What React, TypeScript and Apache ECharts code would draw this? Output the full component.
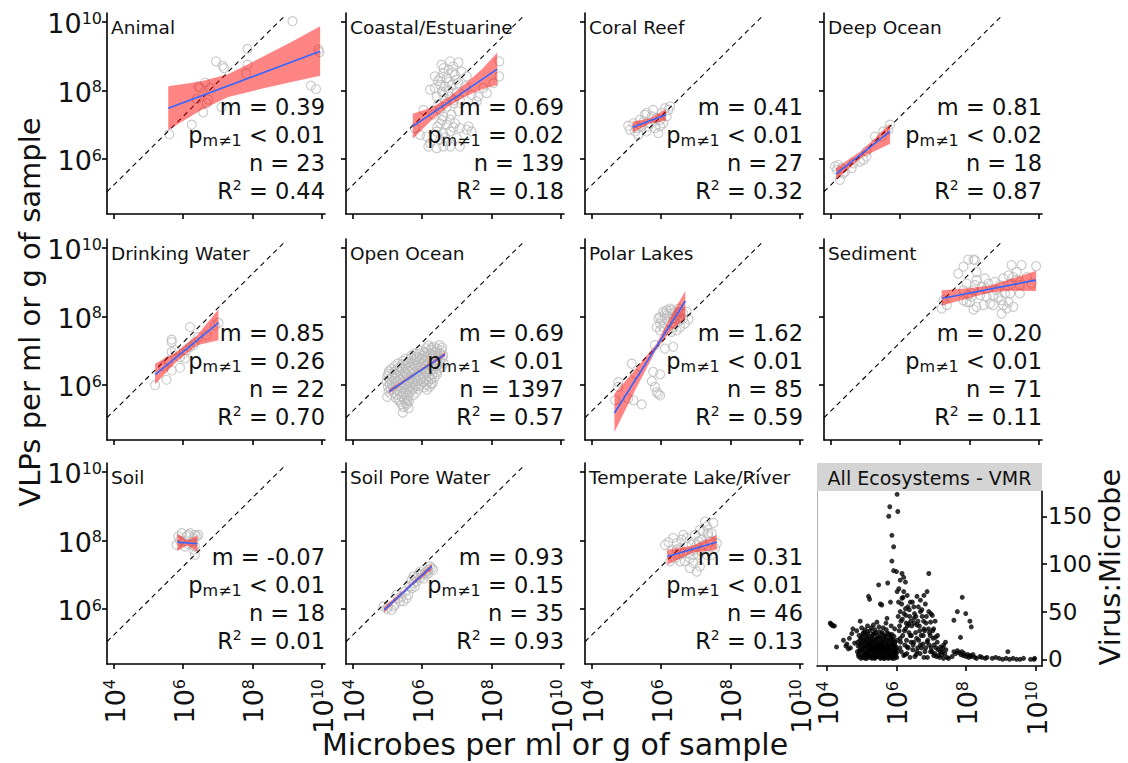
import React, { useEffect, useRef } from "react";
import * as echarts from "echarts";

const FONT = "DejaVu Sans";
const INK = "#111111";

// ---------- panel annotations ----------
const panelNames = ["Animal", "Coastal/Estuarine", "Coral Reef", "Deep Ocean", "Drinking Water", "Open Ocean", "Polar Lakes", "Sediment", "Soil", "Soil Pore Water", "Temperate Lake/River"];
const slopes = ["0.39", "0.69", "0.41", "0.81", "0.85", "0.69", "1.62", "0.20", "-0.07", "0.93", "0.31"];
const pOps = ["<", "=", "<", "<", "=", "<", "<", "<", "<", "=", "<"];
const pValues = ["0.01", "0.02", "0.01", "0.02", "0.26", "0.01", "0.01", "0.01", "0.01", "0.15", "0.01"];
const sampleSizes = ["23", "139", "27", "18", "22", "1397", "85", "71", "18", "35", "46"];
const rSquared = ["0.44", "0.18", "0.32", "0.87", "0.70", "0.57", "0.59", "0.11", "0.01", "0.93", "0.13"];

// ---------- axes (log10 exponents) ----------
const xTickExp = [4, 6, 8, 10];
const yTickExp = [6, 8, 10];
const vmrTicks = [0, 50, 100, 150];

// reference dashed line (log10 microbes, log10 VLPs)
const refLineX = [3.8, 8.9];
const refLineY = [5.05, 10.15];

// ---------- fitted lines (log10 x, log10 y) ----------
const fitX = [[5.57, 9.96], [5.73, 8.17], [5.18, 6.14], [4.15, 5.71], [5.19, 7.02], [5.05, 6.66], [4.65, 6.7], [7.2, 9.93], [5.83, 6.41], [4.9, 6.28], [6.18, 7.61]];
const fitY = [[7.49, 9.15], [6.96, 8.63], [6.93, 7.3], [5.57, 6.81], [6.31, 7.82], [5.82, 6.9], [5.19, 8.46], [8.53, 9.07], [7.96, 7.91], [5.98, 7.25], [7.54, 7.96]];

// ---------- confidence ribbons [x, lower, upper] ----------
const ribbonAnimal = [[5.57, 6.85, 8.13], [6.5, 7.42, 8.27], [7.3, 7.82, 8.48], [8.2, 8.04, 8.94], [9.1, 8.25, 9.41], [9.96, 8.44, 9.88]];
const ribbonCoastal = [[5.73, 6.6, 7.33], [6.3, 7.17, 7.52], [6.8, 7.57, 7.84], [7.3, 7.85, 8.25], [7.75, 8.05, 8.65], [8.17, 8.17, 9.12]];
const ribbonCoral = [[5.18, 6.78, 7.1], [5.65, 7.03, 7.19], [6.14, 7.13, 7.46]];
const ribbonDeep = [[4.15, 5.4, 5.74], [4.9, 6.06, 6.26], [5.71, 6.45, 7.03]];
const ribbonDrinking = [[5.19, 6.03, 6.63], [5.8, 6.68, 6.97], [6.4, 7.17, 7.45], [7.02, 7.31, 8.21]];
const ribbonOpen = [[5.05, 5.76, 5.88], [5.85, 6.34, 6.4], [6.66, 6.84, 6.96]];
const ribbonPolar = [[4.65, 4.63, 5.75], [5.25, 5.85, 6.45], [5.87, 7.06, 7.22], [6.3, 7.61, 8.05], [6.7, 7.95, 8.75]];
const ribbonSediment = [[7.2, 8.33, 8.77], [8.0, 8.55, 8.83], [8.6, 8.71, 8.91], [9.2, 8.76, 9.1], [9.93, 8.75, 9.34]];
const ribbonSoil = [[5.83, 7.7, 8.22], [6.12, 7.87, 8.01], [6.41, 7.68, 8.16]];
const ribbonPore = [[4.9, 5.9, 6.07], [5.6, 6.6, 6.68], [6.28, 7.15, 7.33]];
const ribbonTemperate = [[6.18, 7.3, 7.74], [6.9, 7.65, 7.85], [7.61, 7.74, 8.17]];

// ---------- observations [log10 microbes, log10 VLPs] ----------
const animalPts = [[5.6, 6.73], [6.25, 7.01], [6.58, 7.37], [6.39, 7.76], [6.44, 8.13], [6.63, 8.24], [6.78, 8.08], [6.68, 7.64], [7.11, 7.52], [6.95, 8.86], [7.14, 8.73], [7.18, 8.66], [7.86, 9.22], [7.86, 8.76], [7.82, 8.5], [9.16, 10.03], [9.91, 9.2], [9.94, 9.13], [9.69, 8.15], [9.84, 8.05], [6.49, 8.08], [6.73, 7.74]];
const coastalPts = [[7.05, 8.83], [6.9, 8.71], [6.76, 8.61], [6.61, 8.52], [6.52, 8.37], [6.71, 8.37], [6.95, 8.47], [7.14, 8.56], [7.29, 8.42], [6.52, 8.17], [6.37, 8.08], [6.23, 8.03], [6.66, 8.13], [6.85, 8.17], [7.05, 8.22], [7.24, 8.13], [7.43, 7.88], [7.62, 7.83], [7.87, 7.93], [8.06, 8.22], [8.23, 8.42], [8.23, 8.86], [7.77, 8.08], [6.42, 7.83], [6.61, 7.88], [6.81, 7.83], [7.0, 7.93], [6.9, 7.64], [6.71, 7.54], [6.52, 7.44], [6.32, 7.3], [6.61, 7.25], [6.85, 7.3], [7.05, 7.4], [6.52, 7.05], [6.71, 7.01], [6.95, 7.05], [6.42, 6.81], [6.61, 6.76], [6.81, 6.81], [7.09, 6.91], [7.29, 6.86], [6.52, 6.57], [6.71, 6.52], [7.0, 6.62], [6.13, 6.66], [5.94, 6.71], [5.79, 6.91], [6.23, 6.47], [6.18, 6.37], [6.42, 6.32], [6.61, 6.37], [6.81, 6.37], [7.09, 6.37], [7.34, 6.96], [7.43, 6.81], [7.58, 7.69], [7.09, 7.74], [6.04, 7.44], [6.37, 8.42], [6.56, 8.76], [6.81, 8.86], [6.62, 8.66], [6.88, 8.54], [6.46, 8.28], [6.78, 8.26], [6.98, 8.32], [6.57, 7.98], [6.76, 8.0], [6.92, 7.72], [6.66, 7.7], [6.47, 7.6], [6.8, 7.16], [6.58, 7.14], [6.9, 6.93], [6.44, 6.95], [6.67, 6.64]];
const coralPts = [[5.05, 6.98], [5.1, 6.86], [5.2, 7.05], [5.25, 6.81], [5.34, 6.71], [5.39, 7.15], [5.44, 6.96], [5.53, 7.3], [5.58, 6.81], [5.68, 7.05], [5.73, 7.25], [5.77, 7.44], [5.82, 6.91], [5.92, 6.76], [5.97, 7.15], [6.02, 7.35], [6.11, 7.49], [6.16, 7.25], [6.21, 7.44], [6.26, 7.54], [5.58, 7.35], [5.49, 7.1], [5.87, 7.2], [6.06, 7.05], [5.29, 6.91], [5.63, 6.96], [5.97, 6.96]];
const deepPts = [[4.6, 5.74], [4.84, 5.93], [5.03, 6.08], [5.03, 6.23], [5.27, 6.66], [5.51, 6.81], [5.71, 7.01], [4.65, 5.88], [4.26, 5.4], [4.36, 5.59], [4.12, 5.79], [4.17, 5.69], [4.21, 5.83], [4.31, 5.74], [4.94, 5.98], [5.47, 6.66], [5.66, 6.86], [4.41, 5.64]];
const drinkingPts = [[5.19, 6.0], [5.52, 6.16], [5.43, 6.55], [5.57, 6.71], [5.67, 6.43], [5.91, 6.51], [5.67, 6.97], [5.67, 7.26], [5.67, 7.33], [5.77, 7.02], [5.91, 6.82], [6.05, 6.78], [6.1, 7.02], [6.2, 7.12], [6.2, 7.7], [6.3, 7.17], [6.34, 7.26], [6.44, 7.41], [6.68, 7.46], [6.92, 7.75], [7.02, 7.82], [6.01, 6.92]];
const openPts = [[6.18, 7.16], [6.34, 7.13], [6.5, 7.17], [5.93, 7.01], [6.08, 6.98], [6.26, 7.03], [6.41, 6.99], [6.56, 7.02], [5.68, 6.86], [5.84, 6.83], [6.01, 6.87], [6.14, 6.84], [6.31, 6.88], [6.46, 6.85], [6.61, 6.87], [5.44, 6.71], [5.61, 6.68], [5.76, 6.72], [5.91, 6.69], [6.06, 6.71], [6.21, 6.67], [6.36, 6.72], [6.52, 6.69], [5.21, 6.56], [5.36, 6.53], [5.52, 6.57], [5.66, 6.54], [5.81, 6.56], [5.96, 6.53], [6.11, 6.57], [6.26, 6.54], [6.42, 6.56], [6.56, 6.52], [5.04, 6.41], [5.19, 6.38], [5.34, 6.42], [5.49, 6.39], [5.64, 6.41], [5.79, 6.38], [5.94, 6.42], [6.09, 6.39], [6.24, 6.41], [6.41, 6.38], [4.99, 6.26], [5.14, 6.23], [5.31, 6.27], [5.46, 6.24], [5.61, 6.26], [5.76, 6.23], [5.91, 6.27], [6.04, 6.24], [6.19, 6.26], [6.36, 6.22], [4.98, 6.11], [5.12, 6.08], [5.27, 6.12], [5.43, 6.09], [5.58, 6.11], [5.73, 6.08], [5.87, 6.12], [6.03, 6.09], [6.18, 6.11], [6.31, 6.07], [5.01, 5.96], [5.16, 5.93], [5.29, 5.97], [5.46, 5.94], [5.61, 5.96], [5.74, 5.93], [5.91, 5.97], [6.06, 5.94], [6.23, 5.96], [5.03, 5.81], [5.18, 5.78], [5.36, 5.82], [5.51, 5.79], [5.66, 5.81], [5.82, 5.78], [4.99, 5.66], [5.24, 5.63], [5.41, 5.67], [5.56, 5.64], [5.36, 5.51], [5.53, 5.48], [5.62, 5.53], [5.46, 5.36], [5.61, 5.33], [5.44, 5.2],
  [6.11, 7.08], [6.27, 7.09], [6.43, 7.07], [6.58, 7.1], [5.78, 6.93], [5.93, 6.92], [6.09, 6.94], [6.23, 6.92], [6.38, 6.95], [6.53, 6.93], [5.53, 6.78], [5.69, 6.79], [5.83, 6.77], [5.98, 6.79], [6.13, 6.78], [6.29, 6.8], [6.44, 6.77], [6.58, 6.79], [5.29, 6.63], [5.44, 6.62], [5.58, 6.64], [5.73, 6.63], [5.88, 6.61], [6.03, 6.64], [6.18, 6.62], [6.34, 6.63], [6.49, 6.61], [6.62, 6.64], [5.11, 6.48], [5.27, 6.47], [5.42, 6.49], [5.56, 6.48], [5.71, 6.46], [5.87, 6.49], [6.02, 6.47], [6.17, 6.48], [6.33, 6.46], [6.48, 6.49], [5.02, 6.33], [5.23, 6.34], [5.38, 6.32], [5.53, 6.33], [5.69, 6.34], [5.84, 6.31], [5.98, 6.33], [6.13, 6.34], [6.29, 6.32], [6.43, 6.33], [5.06, 6.18], [5.21, 6.19], [5.36, 6.17], [5.51, 6.18], [5.66, 6.19], [5.81, 6.17], [5.96, 6.18], [6.11, 6.16], [6.26, 6.18], [5.07, 6.03], [5.22, 6.04], [5.37, 6.02], [5.52, 6.03], [5.67, 6.04], [5.82, 6.02], [5.97, 6.03], [6.12, 6.01], [6.27, 6.03], [5.09, 5.88], [5.26, 5.87], [5.42, 5.89], [5.57, 5.88], [5.73, 5.87], [5.89, 5.89], [6.14, 5.87], [5.11, 5.73], [5.28, 5.72], [5.46, 5.74], [5.6, 5.72], [5.74, 5.71], [5.31, 5.58], [5.48, 5.59], [5.58, 5.57], [5.41, 5.43], [5.56, 5.44]];
const polarPts = [[6.74, 8.14], [6.79, 7.92], [6.64, 8.09], [6.35, 7.12], [6.11, 7.07], [5.82, 7.17], [5.15, 6.63], [5.25, 6.34], [4.76, 6.09], [4.67, 5.56], [5.05, 5.61], [5.2, 5.56], [5.44, 5.44], [5.77, 6.39], [5.97, 6.32], [5.73, 6.12], [5.82, 5.95], [5.92, 5.75], [5.97, 5.7], [5.87, 5.8], [4.76, 5.95], [5.97, 7.99], [6.06, 8.14], [6.16, 8.19], [6.26, 8.09], [6.11, 7.95], [5.97, 7.8], [6.21, 7.85], [6.35, 7.95], [6.45, 8.04], [6.55, 8.14], [6.3, 8.19], [6.4, 7.8], [6.55, 7.9], [6.06, 7.7], [5.87, 7.7], [6.21, 7.6], [6.3, 7.56], [5.97, 7.6], [6.16, 8.04], [6.26, 8.24], [6.5, 8.24], [6.64, 7.95], [6.11, 8.09], [6.4, 8.14], [6.02, 7.9], [6.35, 7.7], [6.45, 7.6], [5.92, 7.95], [6.55, 7.7], [6.69, 7.8]];
const sedimentPts = [[7.2, 8.24], [7.35, 8.34], [7.25, 8.48], [7.68, 9.26], [7.83, 9.46], [7.97, 9.67], [8.12, 9.67], [8.16, 9.65], [8.21, 9.31], [7.92, 8.97], [7.83, 8.77], [7.97, 8.63], [7.83, 8.48], [7.92, 8.43], [8.07, 8.58], [8.12, 8.77], [8.16, 8.92], [8.21, 9.07], [8.36, 8.87], [8.45, 9.12], [8.5, 8.58], [8.41, 8.34], [8.12, 8.21], [8.21, 8.29], [8.6, 8.38], [8.69, 8.63], [8.79, 8.77], [8.74, 9.02], [8.89, 8.92], [8.98, 9.12], [9.03, 8.68], [8.93, 8.48], [8.98, 8.34], [8.93, 8.09], [9.13, 8.43], [9.18, 8.68], [9.22, 8.97], [9.27, 9.16], [9.22, 9.51], [9.51, 9.51], [9.37, 9.31], [9.46, 8.92], [9.27, 8.29], [9.08, 8.24], [9.66, 9.16], [9.8, 8.97], [9.93, 9.48], [9.46, 8.68], [8.69, 8.34], [8.5, 8.82], [8.31, 8.63], [8.02, 8.43], [8.55, 8.97], [8.84, 8.58], [9.13, 9.21], [9.37, 9.07]];
const soilPts = [[5.81, 7.88], [5.86, 8.13], [5.91, 8.0], [5.96, 8.22], [6.01, 7.98], [6.1, 8.13], [6.15, 8.17], [6.2, 8.22], [6.25, 7.88], [6.3, 8.08], [6.34, 8.17], [6.39, 8.13], [6.44, 8.17], [6.34, 7.83], [6.3, 7.74], [6.34, 7.59], [6.15, 7.9], [6.05, 7.83]];
const porePts = [[4.88, 6.08], [4.98, 6.01], [5.12, 5.98], [5.22, 6.13], [5.31, 6.32], [5.41, 6.37], [5.46, 6.23], [5.6, 6.42], [5.7, 6.61], [5.75, 6.76], [5.84, 6.81], [5.79, 6.66], [5.94, 6.91], [5.99, 7.01], [6.08, 7.05], [6.13, 7.1], [6.18, 7.15], [6.28, 7.2], [6.32, 7.15], [5.26, 6.42], [5.51, 6.52], [5.65, 6.66], [5.89, 7.01], [6.04, 6.89], [5.17, 6.08], [5.02, 6.08], [5.75, 6.96], [6.13, 7.01], [6.23, 7.25], [5.36, 6.23], [5.55, 6.32], [5.84, 6.91], [5.7, 6.86], [5.94, 7.1], [6.18, 7.05]];
const temperatePts = [[6.11, 7.88], [6.21, 7.96], [6.26, 7.4], [6.35, 8.08], [6.45, 7.93], [6.5, 7.59], [6.55, 7.78], [6.59, 8.03], [6.64, 8.17], [6.74, 8.08], [6.79, 7.64], [6.83, 7.49], [6.88, 7.88], [6.93, 7.35], [6.98, 7.74], [7.03, 7.1], [7.08, 7.59], [7.12, 7.25], [7.17, 8.03], [7.22, 8.27], [7.27, 8.56], [7.32, 8.42], [7.36, 8.13], [7.41, 7.98], [7.46, 8.22], [7.51, 8.52], [7.56, 7.78], [7.61, 7.93], [6.98, 8.17], [7.12, 8.32], [6.4, 7.49], [6.3, 7.69], [6.69, 7.4], [6.83, 7.2], [7.03, 7.88], [7.17, 7.69], [7.32, 7.59], [7.46, 7.59], [6.55, 7.4], [6.74, 7.83], [6.93, 7.59], [7.08, 7.98], [7.22, 7.88], [7.36, 8.22], [6.45, 7.74], [6.64, 7.64]];

// ---------- all ecosystems VMR [log10 microbes, virus:microbe] ----------
const vmrPts = [
  [4.1, 38], [4.12, 37], [4.15, 36], [4.18, 35], [4.22, 35], [4.28, 13],
  [4.48, 20], [4.58, 16], [4.62, 11], [4.65, 22], [4.72, 27], [4.75, 32], [4.8, 17], [4.86, 30], [4.96, 40], [4.55, 14], [4.68, 12],
  [4.88, 8], [4.9, 14], [4.92, 3], [4.95, 20], [4.97, 11], [5.0, 6], [5.0, 17], [5.02, 24], [5.03, 2], [5.05, 12], [5.06, 28], [5.08, 8], [5.1, 19], [5.11, 4], [5.12, 14], [5.14, 22], [5.15, 1], [5.16, 9], [5.18, 26], [5.19, 16], [5.2, 5], [5.21, 12], [5.23, 20], [5.24, 2], [5.25, 30], [5.26, 10], [5.27, 15], [5.29, 6], [5.3, 23], [5.31, 13], [5.32, 3], [5.33, 18], [5.35, 8], [5.36, 27], [5.37, 11], [5.38, 1], [5.4, 16], [5.41, 21], [5.42, 6], [5.43, 13], [5.45, 25], [5.46, 3], [5.47, 9], [5.48, 18], [5.5, 12], [5.51, 29], [5.52, 5], [5.53, 15], [5.55, 22], [5.56, 2], [5.57, 10], [5.58, 17], [5.6, 7], [5.61, 26], [5.62, 13], [5.63, 1], [5.65, 19], [5.66, 9], [5.67, 24], [5.68, 4], [5.7, 14], [5.71, 31], [5.72, 7], [5.73, 20], [5.75, 11], [5.76, 2], [5.77, 16], [5.78, 27], [5.8, 6], [5.81, 12], [5.82, 22], [5.83, 3], [5.85, 9], [5.86, 17], [5.87, 26], [5.88, 1], [5.9, 13], [5.91, 5], [5.92, 20], [5.94, 8], [5.95, 15], [5.97, 3], [5.98, 11], [6.0, 6],
  [4.89, 18], [4.91, 5], [4.93, 25], [4.94, 9], [4.96, 15], [4.98, 1], [4.99, 22], [5.01, 10], [5.03, 16], [5.04, 27], [5.06, 4], [5.07, 20], [5.09, 13], [5.1, 1], [5.12, 25], [5.13, 7], [5.15, 17], [5.16, 29], [5.17, 3], [5.19, 11], [5.2, 21], [5.22, 8], [5.23, 15], [5.25, 4], [5.26, 24], [5.28, 12], [5.29, 19], [5.3, 1], [5.32, 9], [5.33, 26], [5.34, 14], [5.36, 5], [5.37, 21], [5.39, 10], [5.4, 28], [5.41, 2], [5.43, 17], [5.44, 8], [5.45, 13], [5.47, 22], [5.48, 4], [5.49, 15], [5.51, 9], [5.52, 24], [5.54, 1], [5.55, 12], [5.56, 19], [5.58, 6], [5.59, 28], [5.6, 14], [5.62, 3], [5.63, 21], [5.64, 10], [5.66, 16], [5.67, 1], [5.69, 11], [5.7, 23], [5.71, 5], [5.73, 15], [5.74, 27], [5.75, 8], [5.77, 1], [5.78, 19], [5.79, 11], [5.81, 4], [5.82, 25], [5.84, 14], [5.85, 2], [5.86, 21], [5.88, 7], [5.89, 16], [5.91, 10], [5.93, 24], [5.94, 1], [5.96, 18], [5.97, 7], [5.99, 13], [6.01, 2], [6.02, 9], [6.03, 20],
  [5.0, 33], [5.1, 31], [5.17, 35], [5.28, 33], [5.38, 31], [5.5, 34], [5.62, 33], [5.7, 38], [5.85, 35], [5.95, 32],
  [5.2, 66], [5.23, 63], [5.49, 78], [5.54, 58], [5.58, 57], [5.75, 80], [5.83, 60], [5.73, 43], [5.44, 39], [5.34, 36], [5.78, 150], [5.81, 160], [5.87, 130], [5.92, 118], [5.87, 103], [5.92, 93], [6.0, 92], [6.02, 173], [6.04, 155],
  [6.16, 90], [6.21, 86], [6.11, 83], [6.26, 81], [6.07, 74], [6.21, 71], [6.31, 67], [6.16, 64], [6.02, 71], [6.4, 60], [6.5, 55], [6.26, 53], [6.11, 50], [6.59, 66], [6.69, 62], [6.79, 67], [6.93, 90], [6.88, 71], [6.83, 58], [6.93, 50], [7.03, 46], [6.69, 50], [6.5, 43], [6.35, 37], [6.59, 36], [6.79, 32], [6.98, 39], [7.07, 32], [7.12, 23], [7.17, 18], [7.27, 13], [7.36, 15], [7.41, 18], [7.31, 8], [6.26, 32], [6.4, 25], [6.11, 22], [6.5, 18], [6.31, 13], [6.69, 15], [6.88, 18], [6.59, 8], [6.98, 8], [6.21, 4], [6.79, 2], [7.07, 4],
  [6.05, 45], [6.08, 30], [6.1, 12], [6.13, 40], [6.15, 58], [6.18, 25], [6.22, 48], [6.24, 15], [6.28, 38], [6.3, 6], [6.33, 55], [6.36, 28], [6.38, 45], [6.42, 18], [6.44, 35], [6.47, 10], [6.52, 48], [6.55, 28], [6.57, 5], [6.62, 40], [6.64, 20], [6.67, 30], [6.72, 12], [6.74, 45], [6.77, 25], [6.82, 8], [6.85, 38], [6.9, 20], [6.95, 28], [7.0, 12], [7.05, 22], [7.1, 6], [7.15, 3], [7.2, 10], [7.24, 2], [7.3, 5], [7.35, 1], [7.45, 2], [7.5, 1],
  [6.06, 60], [6.09, 35], [6.12, 18], [6.14, 8], [6.17, 42], [6.19, 65], [6.23, 30], [6.25, 5], [6.27, 46], [6.29, 20], [6.32, 35], [6.34, 12], [6.37, 52], [6.39, 2], [6.41, 40], [6.43, 25], [6.46, 60], [6.48, 15], [6.51, 38], [6.53, 3], [6.56, 45], [6.58, 22], [6.61, 12], [6.63, 55], [6.66, 35], [6.68, 6], [6.71, 25], [6.73, 52], [6.76, 16], [6.78, 40], [6.81, 30], [6.84, 12], [6.86, 45], [6.89, 2], [6.92, 32], [6.94, 15], [6.97, 25], [6.99, 48], [7.02, 8], [7.04, 30], [7.08, 15], [7.11, 40], [7.14, 12], [7.18, 25], [7.21, 4], [7.26, 8], [7.33, 12], [7.39, 6], [7.42, 10],
  [7.65, 41], [7.75, 50], [7.89, 65], [7.99, 48], [8.11, 40], [8.15, 34], [7.84, 23],
  [7.6, 3], [7.65, 8], [7.7, 6], [7.75, 9], [7.8, 7], [7.85, 5], [7.88, 8], [7.92, 4], [7.95, 6], [8.0, 3], [8.05, 5], [8.08, 2], [8.12, 4], [8.15, 3], [8.2, 5], [8.25, 2], [8.3, 1], [8.4, 3], [8.45, 2], [8.55, 1], [8.6, 2], [8.75, 1], [8.85, 2], [8.95, 1], [9.05, 0], [9.15, 1], [9.2, 8], [9.25, 0], [9.35, 1], [9.45, 0], [9.55, 0], [9.65, 1], [9.85, 0], [9.95, 0], [9.97, 1]
];

const panelPoints = [animalPts, coastalPts, coralPts, deepPts, drinkingPts, openPts, polarPts, sedimentPts, soilPts, porePts, temperatePts];
const panelRibbons = [ribbonAnimal, ribbonCoastal, ribbonCoral, ribbonDeep, ribbonDrinking, ribbonOpen, ribbonPolar, ribbonSediment, ribbonSoil, ribbonPore, ribbonTemperate];

// ---------- layout ----------
const COL_LEFT = [107, 346, 585, 824];
const ROW_TOP = [13, 239, 463];
const PW = 218;
const PH = 201;

function buildOption() {
  const grids: any[] = [];
  const xAxes: any[] = [];
  const yAxes: any[] = [];
  const series: any[] = [];
  const graphics: any[] = [];

  const supRich = {
    base: { fontSize: 27, fontFamily: FONT, color: INK, lineHeight: 28, padding: [2, 0, 2, 0], verticalAlign: "top" },
    up: { fontSize: 16, fontFamily: FONT, color: INK, lineHeight: 16, padding: [2, 0, 0, 0], verticalAlign: "top" },
  };
  const expFmt = (v: number) => `{base|10}{up|${v}}`;
  const axLine = { color: "#000", width: 1.6 };
  const expLabel = { fontSize: 27, fontFamily: FONT, color: INK, formatter: expFmt, rich: supRich };

  const annRich = {
    a: { fontSize: 22.5, fontFamily: FONT, fill: INK, lineHeight: 28, padding: [3, 0, 0, 0], verticalAlign: "top" },
    sub: { fontSize: 16, fontFamily: FONT, fill: INK, lineHeight: 16, padding: [12, 0, 0, 0], verticalAlign: "top" },
    sup: { fontSize: 14, fontFamily: FONT, fill: INK, lineHeight: 14, padding: [2, 0, 0, 0], verticalAlign: "top" },
  };

  panelNames.forEach((name, i) => {
    const r = Math.floor(i / 4);
    const c = i % 4;
    const left = COL_LEFT[c];
    const top = ROW_TOP[r];
    grids.push({ left, top, width: PW, height: PH });
    xAxes.push({
      gridIndex: i, type: "value", min: 3.8, max: 10.1,
      axisLine: { show: true, onZero: false, lineStyle: axLine },
      axisTick: { show: true, length: 5, customValues: xTickExp, lineStyle: axLine },
      axisLabel: { ...expLabel, show: r === 2, customValues: xTickExp, rotate: 90, margin: 15 },
      splitLine: { show: false },
    });
    yAxes.push({
      gridIndex: i, type: "value", min: 4.4, max: 10.27,
      axisLine: { show: true, onZero: false, lineStyle: axLine },
      axisTick: { show: true, length: 5, customValues: yTickExp, lineStyle: axLine },
      axisLabel: { ...expLabel, show: c === 0, customValues: yTickExp, margin: 5 },
      splitLine: { show: false },
    });

    series.push({
      type: "scatter", xAxisIndex: i, yAxisIndex: i, silent: true, z: 2,
      data: panelPoints[i], symbol: "circle", symbolSize: 9,
      itemStyle: { color: "rgba(0,0,0,0)", borderColor: "#bababa", borderWidth: 1.1 },
    });
    series.push({
      type: "line", xAxisIndex: i, yAxisIndex: i, silent: true, z: 3, symbol: "none",
      data: refLineX.map((x, k) => [x, refLineY[k]]),
      lineStyle: { color: "#000", width: 1.1, type: [5, 4] },
    });
    const rib = panelRibbons[i];
    series.push({
      type: "custom", xAxisIndex: i, yAxisIndex: i, silent: true, z: 4,
      data: rib, encode: { x: 0, y: [1, 2] },
      renderItem: (params: any, api: any) => {
        if (params.dataIndex !== 0) return null;
        const pts: number[][] = [];
        rib.forEach((p) => pts.push(api.coord([p[0], p[2]])));
        for (let k = rib.length - 1; k >= 0; k--) pts.push(api.coord([rib[k][0], rib[k][1]]));
        return { type: "polygon", shape: { points: pts }, style: { fill: "rgba(255,0,0,0.48)" } };
      },
    });
    series.push({
      type: "line", xAxisIndex: i, yAxisIndex: i, silent: true, z: 5, symbol: "none",
      data: fitX[i].map((x, k) => [x, fitY[i][k]]),
      lineStyle: { color: "#3366FF", width: 1.6 },
    });

    graphics.push({
      type: "text", x: left + 4, y: top + 14, z: 100, silent: true,
      style: { text: name, fontSize: 18.5, fontFamily: FONT, fill: INK, align: "left", verticalAlign: "middle", textAlign: "left", textVerticalAlign: "middle" },
    });
    graphics.push({
      type: "text", x: left + PW, y: top + 79, z: 100, silent: true,
      style: {
        text: `{a|m = ${slopes[i]}}\n{a|p}{sub|m≠1}{a| ${pOps[i]} ${pValues[i]}}\n{a|n = ${sampleSizes[i]}}\n{a|R}{sup|2}{a| = ${rSquared[i]}}`,
        fontSize: 22.5, fontFamily: FONT, fill: INK,
        align: "right", verticalAlign: "top", textAlign: "right", textVerticalAlign: "top",
        rich: annRich,
      },
    });
  });

  // ---------- VMR panel ----------
  const vi = 11;
  grids.push({ left: 817, top: 491, width: 225, height: 175 });
  xAxes.push({
    gridIndex: vi, type: "value", min: 3.72, max: 10.18,
    axisLine: { show: true, onZero: false, lineStyle: axLine },
    axisTick: { show: true, length: 5, customValues: xTickExp, lineStyle: axLine },
    axisLabel: { ...expLabel, show: true, customValues: xTickExp, rotate: 90, margin: 15 },
    splitLine: { show: false },
  });
  yAxes.push({
    gridIndex: vi, type: "value", position: "right", min: -7, max: 176.5,
    axisLine: { show: true, onZero: false, lineStyle: axLine },
    axisTick: { show: true, length: 5, customValues: vmrTicks, lineStyle: axLine },
    axisLabel: { show: true, customValues: vmrTicks, margin: 6, fontSize: 23, fontFamily: FONT, color: INK },
    splitLine: { show: false },
  });
  yAxes.push({
    gridIndex: vi, type: "value", position: "left", min: -7, max: 176.5,
    axisLine: { show: true, onZero: false, lineStyle: { color: "#b5b5b5", width: 1 } },
    axisTick: { show: false }, axisLabel: { show: false }, splitLine: { show: false },
  });
  series.push({
    type: "scatter", xAxisIndex: vi, yAxisIndex: vi, silent: true, z: 2,
    data: vmrPts, symbol: "circle", symbolSize: 5, itemStyle: { color: "#000" },
  });

  graphics.push({ type: "rect", z: 50, silent: true, shape: { x: 817, y: 463, width: 225, height: 28 }, style: { fill: "#d4d4d4" } });
  graphics.push({
    type: "text", x: 929.5, y: 477.5, z: 100, silent: true,
    style: { text: "All Ecosystems - VMR", fontSize: 19, fontFamily: FONT, fill: INK, align: "center", verticalAlign: "middle", textAlign: "center", textVerticalAlign: "middle" },
  });

  // ---------- axis titles ----------
  graphics.push({
    type: "text", x: 30, y: 312, rotation: Math.PI / 2, z: 100, silent: true,
    style: { text: "VLPs per ml or g of sample", fontSize: 29, fontFamily: FONT, fill: INK, align: "center", verticalAlign: "middle", textAlign: "center", textVerticalAlign: "middle" },
  });
  graphics.push({
    type: "text", x: 555, y: 744, z: 100, silent: true,
    style: { text: "Microbes per ml or g of sample", fontSize: 30, fontFamily: FONT, fill: INK, align: "center", verticalAlign: "middle", textAlign: "center", textVerticalAlign: "middle" },
  });
  graphics.push({
    type: "text", x: 1110, y: 567, rotation: Math.PI / 2, z: 100, silent: true,
    style: { text: "Virus:Microbe", fontSize: 29, fontFamily: FONT, fill: INK, align: "center", verticalAlign: "middle", textAlign: "center", textVerticalAlign: "middle" },
  });

  return {
    animation: false,
    backgroundColor: "#ffffff",
    grid: grids,
    xAxis: xAxes,
    yAxis: yAxes,
    series,
    graphic: { elements: graphics },
  };
}

export default function App() {
  const ref = useRef<HTMLDivElement>(null);
  useEffect(() => {
    if (!ref.current) return;
    const chart = echarts.init(ref.current, null, { renderer: "svg" });
    chart.setOption(buildOption() as any);
    return () => chart.dispose();
  }, []);
  return <div ref={ref} style={{ position: "fixed", left: 0, top: 0, width: 1128, height: 763, background: "#fff" }} />;
}
